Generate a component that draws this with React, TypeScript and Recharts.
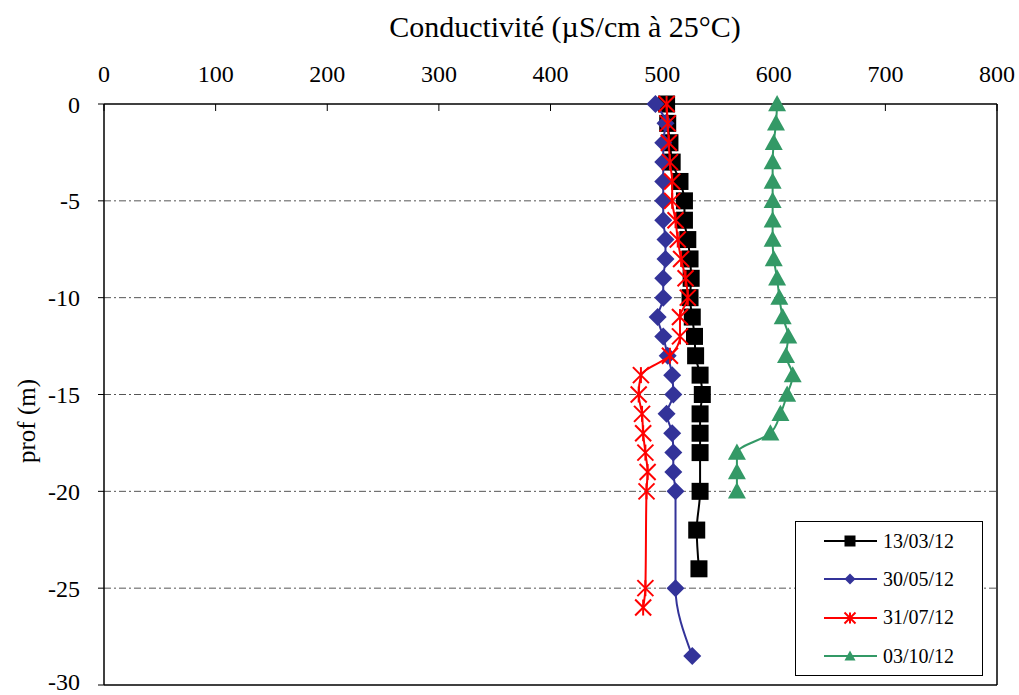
import { ScatterChart, Scatter, XAxis, YAxis, CartesianGrid, ReferenceLine } from 'recharts';

// profile data: depth (m) and conductivity (µS/cm at 25°C)
const depthsMar = [0, -1, -2, -3, -4, -5, -6, -7, -8, -9, -10, -11, -12, -13, -14, -15, -16, -17, -18, -20, -22, -24];
const condMar = [504, 505, 507, 509, 516, 520, 520, 523, 525, 526, 525, 527, 529, 530, 534, 536, 534, 534, 534, 534, 531, 533];

const depthsMay = [0, -1, -2, -3, -4, -5, -6, -7, -8, -9, -10, -11, -12, -13, -14, -15, -16, -17, -18, -19, -20, -25, -28.5];
const condMay = [494, 503, 501, 501, 501, 501, 501, 503, 503, 501, 501, 496, 501, 505, 509, 510, 504, 509, 510, 510, 512, 512, 527];

const depthsJul = [0, -1, -2, -3, -4, -5, -6, -7, -8, -9, -10, -11, -12, -13, -14, -15, -16, -17, -18, -19, -20, -25, -26];
const condJul = [504, 505, 506, 507, 509, 509, 512, 514, 517, 521, 523, 516, 516, 507, 481, 479, 482, 483, 485, 487, 486, 485, 483];

const depthsOct = [0, -1, -2, -3, -4, -5, -6, -7, -8, -9, -10, -11, -12, -13, -14, -15, -16, -17, -18, -19, -20];
const condOct = [603, 602, 600, 599, 599, 599, 599, 599, 600, 603, 605, 608, 613, 611, 617, 612, 606, 597, 567, 567, 567];

const xTicks = [0, 100, 200, 300, 400, 500, 600, 700, 800];
const yTicks = [0, -5, -10, -15, -20, -25, -30];

const zip = (depths: number[], vals: number[]) => depths.map((d, i) => ({ x: vals[i], y: d }));

const FONT = '"Liberation Serif", "Times New Roman", serif';

type Kind = 'square' | 'diamond' | 'star' | 'triangle';

function Marker({ kind, cx, cy, color, s }: { kind: Kind; cx: number; cy: number; color: string; s: number }) {
  const h = s / 2;
  if (kind === 'square') return <rect x={cx - h} y={cy - h} width={s} height={s} fill={color} />;
  if (kind === 'diamond')
    return <polygon points={`${cx},${cy - h} ${cx + h},${cy} ${cx},${cy + h} ${cx - h},${cy}`} fill={color} />;
  if (kind === 'triangle')
    return <polygon points={`${cx},${cy - h} ${cx + h},${cy + h * 0.8} ${cx - h},${cy + h * 0.8}`} fill={color} />;
  return (
    <g stroke={color} strokeWidth={2}>
      <line x1={cx - h} y1={cy - h} x2={cx + h} y2={cy + h} />
      <line x1={cx - h} y1={cy + h} x2={cx + h} y2={cy - h} />
      <line x1={cx} y1={cy - h} x2={cx} y2={cy + h} />
    </g>
  );
}

const series = [
  { name: '13/03/12', data: zip(depthsMar, condMar), color: '#000000', kind: 'square' as Kind, size: 17 },
  { name: '30/05/12', data: zip(depthsMay, condMay), color: '#333399', kind: 'diamond' as Kind, size: 18 },
  { name: '31/07/12', data: zip(depthsJul, condJul), color: '#FF0000', kind: 'star' as Kind, size: 16 },
  { name: '03/10/12', data: zip(depthsOct, condOct), color: '#339966', kind: 'triangle' as Kind, size: 18 },
];

function LegendBox() {
  return (
    <div
      style={{
        position: 'absolute',
        left: 795,
        top: 521,
        border: '1.5px solid #000',
        background: '#fff',
        width: 188,
        height: 155,
        boxSizing: 'border-box',
        fontFamily: FONT,
        fontSize: 20,
      }}
    >
      {series.map((s) => (
        <div key={s.name} style={{ display: 'flex', alignItems: 'center', height: 38.3 }}>
          <svg width={87} height={20} style={{ flex: 'none' }}>
            <line x1={28} y1={10} x2={81} y2={10} stroke={s.color} strokeWidth={2} />
            <Marker kind={s.kind} cx={54} cy={10} color={s.color} s={11} />
          </svg>
          <span>{s.name}</span>
        </div>
      ))}
    </div>
  );
}

export default function App() {
  const tick = { fontFamily: FONT, fontSize: 24, fill: '#000' };
  return (
    <div style={{ position: 'absolute', left: 0, top: 0, width: 1019, height: 695, background: '#fff' }}>
      <div
        style={{
          position: 'absolute',
          left: 0,
          width: 1130,
          top: 9,
          textAlign: 'center',
          fontFamily: FONT,
          fontSize: 30,
          lineHeight: '36px',
        }}
      >
        Conductivité (µS/cm à 25°C)
      </div>
      <div
        style={{
          position: 'absolute',
          left: 27,
          top: 421,
          transform: 'translate(-50%, -50%) rotate(-90deg)',
          fontFamily: FONT,
          fontSize: 25,
          whiteSpace: 'nowrap',
        }}
      >
        prof (m)
      </div>
      <ScatterChart width={1019} height={695} margin={{ top: 44, left: 44, right: 22, bottom: 10 }}>
        <CartesianGrid
          horizontal
          vertical={false}
          stroke="#555"
          strokeDasharray="7 3 2 3"
          horizontalValues={[-5, -10, -15, -20, -25]}
        />
        <XAxis
          type="number"
          dataKey="x"
          orientation="top"
          domain={[0, 800]}
          ticks={xTicks}
          height={60}
          tick={tick}
          tickSize={-7}
          tickMargin={29}
          tickLine={{ stroke: '#000' }}
          axisLine={{ stroke: '#000', strokeWidth: 1.5 }}
        />
        <YAxis
          type="number"
          dataKey="y"
          domain={[-30, 0]}
          ticks={yTicks}
          width={60}
          tick={tick}
          tickSize={6}
          tickMargin={18}
          tickLine={{ stroke: '#000' }}
          axisLine={{ stroke: '#000', strokeWidth: 1.5 }}
        />
        <ReferenceLine x={800} stroke="#000" strokeWidth={1.5} />
        <ReferenceLine y={-30} stroke="#000" strokeWidth={1.5} />
        {series.map((s) => (
          <Scatter
            key={s.name}
            name={s.name}
            data={s.data}
            fill={s.color}
            line={{ stroke: s.color, strokeWidth: 2 }}
            lineJointType="monotoneY"
            isAnimationActive={false}
            shape={(p: any) => <Marker kind={s.kind} cx={p.cx} cy={p.cy} color={s.color} s={s.size} />}
          />
        ))}
      </ScatterChart>
      <LegendBox />
    </div>
  );
}
